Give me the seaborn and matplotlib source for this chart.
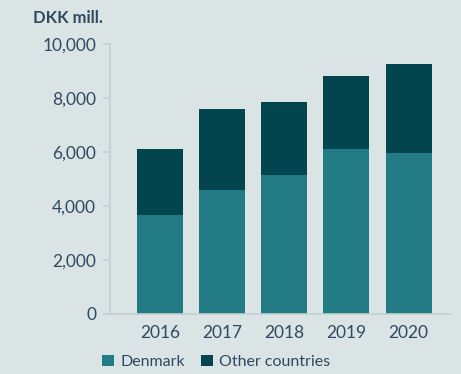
import matplotlib
matplotlib.use("Agg")
import matplotlib.pyplot as plt
import seaborn as sns
import pandas as pd
from matplotlib.patches import Patch

years = ["2016", "2017", "2018", "2019", "2020"]
denmark = [3650, 4600, 5150, 6100, 5950]
other = [2450, 3000, 2700, 2700, 3300]
yticks = [0, 2000, 4000, 6000, 8000, 10000]
ytick_labels = ["0", "2,000", "4,000", "6,000", "8,000", "10,000"]

bg = "#dbe4e5"
c_dk = "#237b85"
c_ot = "#02454f"
txt = "#2f4a60"
axc = "#bfd1d1"

sns.set_theme(style="white")
plt.rcParams["font.family"] = ["Lato", "DejaVu Sans"]

df = pd.DataFrame({"year": years, "denmark": denmark, "other": other})
df["total"] = df["denmark"] + df["other"]

fig = plt.figure(figsize=(4.61, 3.74), dpi=100, facecolor=bg)
ax = fig.add_axes([110/461, 1-314/374, (451-110)/461, (314-44)/374])
ax.set_facecolor(bg)

sns.barplot(data=df, x="year", y="total", color=c_ot, width=0.74, ax=ax, saturation=1,
            edgecolor="none", linewidth=0)
sns.barplot(data=df, x="year", y="denmark", color=c_dk, width=0.74, ax=ax, saturation=1,
            edgecolor="none", linewidth=0)

ax.set_xlim(-0.8, 4.68)
ax.set_ylim(0, 10000)
ax.set_yticks(yticks)
ax.set_yticklabels(ytick_labels)
ax.set_xlabel("")
ax.set_ylabel("")
for s in ["top", "right"]:
    ax.spines[s].set_visible(False)
ax.spines["left"].set_color(axc)
ax.spines["bottom"].set_color(axc)
ax.spines["left"].set_linewidth(1.2)
ax.spines["bottom"].set_linewidth(1.2)
ax.tick_params(axis="y", length=5, width=1.2, color=axc, labelsize=12.5, labelcolor=txt, pad=5, left=True)
ax.tick_params(axis="x", length=0, labelsize=12.5, labelcolor=txt, pad=8)

fig.text(33/461, 1-18/374, "DKK mill.", fontsize=12, fontweight="bold", color=txt, va="center", ha="left")

handles = [Patch(facecolor=c_dk, edgecolor="none"), Patch(facecolor=c_ot, edgecolor="none")]
fig.legend(handles, ["Denmark", "Other countries"], loc="center", bbox_to_anchor=(216/461, 1-362/374),
           ncol=2, frameon=False, fontsize=11.5, labelcolor=txt, handlelength=0.75, handleheight=0.75,
           handletextpad=0.4, columnspacing=1.0, borderpad=0)

fig.savefig("out.png", dpi=100, facecolor=bg)
